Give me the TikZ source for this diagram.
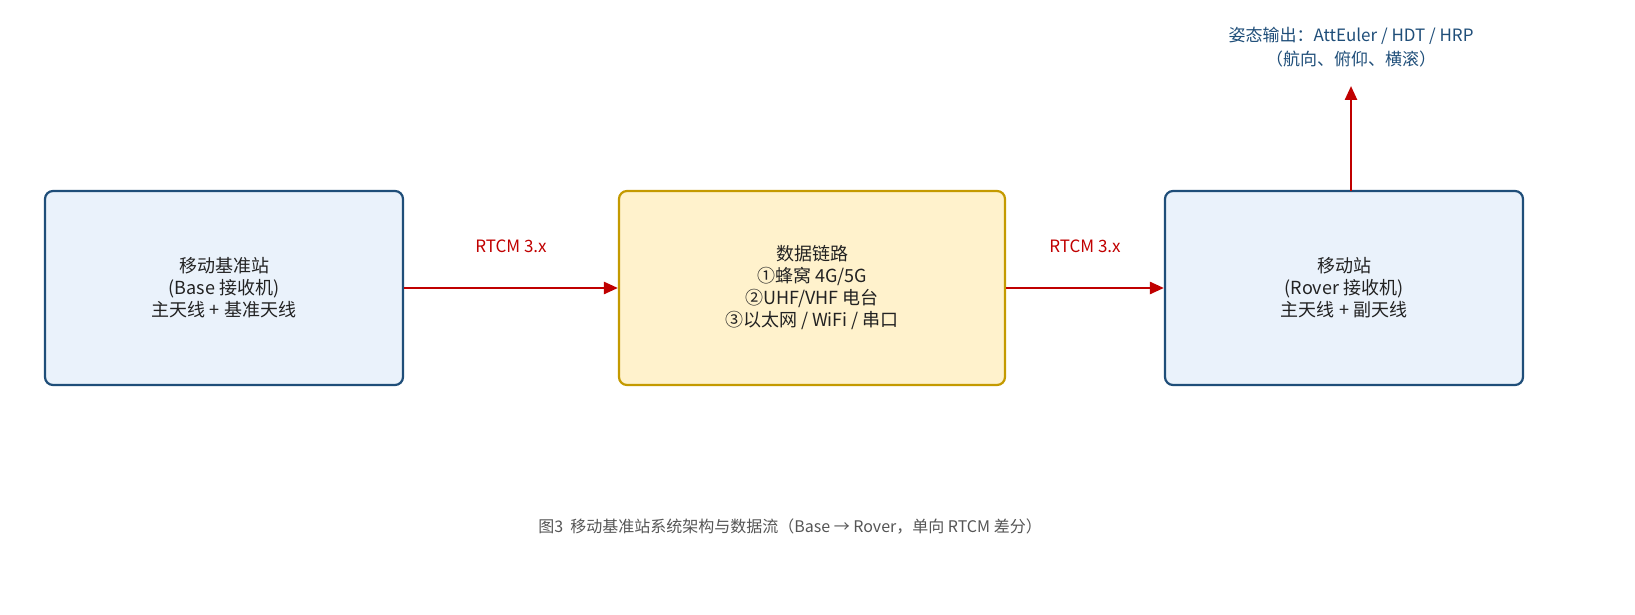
\documentclass[tikz,border=0pt]{standalone}
\usepackage{fontspec}
\setmainfont{Noto Sans CJK SC}
\usetikzlibrary{arrows.meta}
\definecolor{bfill}{HTML}{EAF2FB}\definecolor{bdraw}{HTML}{1F4E79}
\definecolor{yfill}{HTML}{FFF2CC}\definecolor{ydraw}{HTML}{C49A00}
\definecolor{ared}{HTML}{C00000}\definecolor{txt}{HTML}{222222}
\definecolor{cap}{HTML}{555555}
\begin{document}
\begin{tikzpicture}[x=1pt,y=-1pt,
 box/.style={draw=bdraw,fill=bfill,line width=2.2pt,rounded corners=8pt,minimum width=358pt,minimum height=194pt,align=center,text=txt,font=\fontsize{18}{22}\selectfont},
 arr/.style={draw=ared,line width=2.5pt,-{Triangle[length=14pt,width=12pt]}},
 lab/.style={text=ared,font=\fontsize{17}{20}\selectfont}]
\node[box] (base) at (224,288) {移动基准站\\(Base 接收机)\\主天线 + 基准天线};
\node[box,draw=ydraw,fill=yfill,minimum width=386pt] (link) at (812,288) {数据链路\\①蜂窝 4G/5G\\②UHF/VHF 电台\\③以太网 / WiFi / 串口};
\node[box] (rover) at (1344,288) {移动站\\(Rover 接收机)\\主天线 + 副天线};
\draw[arr] (base.east) -- (link.west);
\draw[arr] (link.east) -- (rover.west);
\node[lab] (l1) at (511,246) {RTCM 3.x};
\node[lab] (l2) at (1085,246) {RTCM 3.x};
\coordinate (top) at (1351,86);
\draw[arr] (1351,191) -- (top);
\node[text=bdraw,align=center,font=\fontsize{17}{24}\selectfont] (out) at (1351,47) {姿态输出：AttEuler / HDT / HRP\\（航向、俯仰、横滚）};
\node[text=cap,font=\fontsize{16}{20}\selectfont] (caption) at (790,527) {图3\ \ 移动基准站系统架构与数据流（Base → Rover，单向 RTCM 差分）};
\pgfresetboundingbox
\useasboundingbox (0,0) rectangle (1635,615);
\end{tikzpicture}
\end{document}
